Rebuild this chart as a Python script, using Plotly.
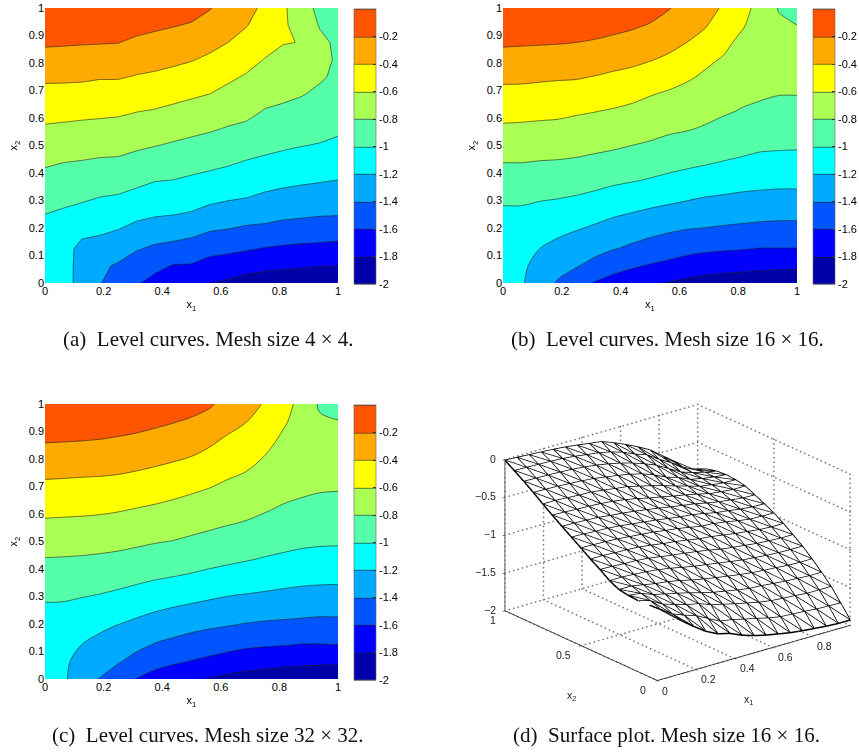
import numpy as np
import plotly.graph_objects as go

W, H = 859, 754

mesh_x = [i / 16 for i in range(17)]
mesh_y = [i / 16 for i in range(17)]

# Each inner list is one column (fixed x1), running up x2 from 0 to 1
z_a_columns = [
    [-1.01,-1.01,-1.01,-1.01,-1.0,-.92,-.85,-.78,-.695,-.62,-.535,-.455,-.365,-.265,-.175,-.09,-.0],
    [-1.13,-1.13,-1.13,-1.09,-1.03,-.945,-.865,-.80,-.72,-.63,-.545,-.46,-.365,-.27,-.18,-.09,-.02],
    [-1.26,-1.26,-1.25,-1.16,-1.06,-.97,-.89,-.81,-.735,-.64,-.555,-.465,-.37,-.285,-.185,-.10,-.03],
    [-1.39,-1.37,-1.27,-1.18,-1.09,-1.0,-.91,-.825,-.74,-.645,-.565,-.48,-.385,-.29,-.19,-.105,-.035],
    [-1.49,-1.42,-1.32,-1.21,-1.115,-1.015,-.92,-.83,-.745,-.66,-.57,-.48,-.385,-.295,-.195,-.11,-.04],
    [-1.58,-1.50,-1.385,-1.26,-1.16,-1.05,-.955,-.855,-.775,-.68,-.595,-.50,-.41,-.325,-.235,-.14,-.05],
    [-1.66,-1.55,-1.43,-1.31,-1.18,-1.09,-.99,-.89,-.795,-.70,-.61,-.525,-.43,-.335,-.26,-.165,-.08],
    [-1.73,-1.61,-1.46,-1.32,-1.195,-1.105,-1.0,-.91,-.82,-.73,-.635,-.55,-.45,-.365,-.28,-.19,-.11],
    [-1.78,-1.615,-1.485,-1.35,-1.215,-1.125,-1.025,-.935,-.845,-.755,-.66,-.575,-.48,-.39,-.31,-.215,-.13],
    [-1.80,-1.67,-1.54,-1.40,-1.265,-1.15,-1.05,-.955,-.865,-.78,-.695,-.60,-.515,-.43,-.35,-.27,-.19],
    [-1.83,-1.69,-1.56,-1.42,-1.275,-1.18,-1.08,-.98,-.89,-.81,-.73,-.645,-.57,-.49,-.40,-.34,-.28],
    [-1.865,-1.74,-1.58,-1.45,-1.31,-1.195,-1.105,-1.015,-.915,-.835,-.75,-.675,-.615,-.545,-.475,-.39,-.34],
    [-1.885,-1.76,-1.61,-1.455,-1.335,-1.225,-1.14,-1.035,-.955,-.88,-.81,-.74,-.68,-.605,-.55,-.50,-.44],
    [-1.91,-1.77,-1.63,-1.48,-1.36,-1.25,-1.155,-1.06,-.975,-.90,-.83,-.765,-.71,-.665,-.59,-.585,-.58],
    [-1.925,-1.78,-1.64,-1.50,-1.37,-1.27,-1.17,-1.08,-.995,-.92,-.855,-.79,-.74,-.695,-.605,-.64,-.675],
    [-1.94,-1.795,-1.65,-1.51,-1.385,-1.28,-1.185,-1.095,-1.01,-.945,-.89,-.83,-.78,-.755,-.75,-.815,-.87],
    [-1.945,-1.80,-1.66,-1.52,-1.39,-1.29,-1.20,-1.12,-1.04,-.965,-.915,-.87,-.83,-.82,-.84,-.88,-.92],
]

z_b_columns = [
    [-1.07,-1.07,-1.06,-1.05,-1.03,-.97,-.88,-.80,-.71,-.625,-.54,-.45,-.36,-.265,-.175,-.09,-.01],
    [-1.18,-1.16,-1.11,-1.07,-1.03,-.97,-.885,-.80,-.715,-.63,-.545,-.455,-.36,-.27,-.18,-.095,-.02],
    [-1.30,-1.27,-1.20,-1.13,-1.06,-.98,-.895,-.81,-.72,-.64,-.55,-.465,-.37,-.275,-.185,-.10,-.03],
    [-1.42,-1.335,-1.25,-1.17,-1.09,-.99,-.90,-.815,-.73,-.645,-.56,-.47,-.38,-.285,-.19,-.105,-.04],
    [-1.53,-1.385,-1.30,-1.205,-1.11,-1.01,-.915,-.825,-.745,-.66,-.58,-.48,-.385,-.295,-.20,-.115,-.05],
    [-1.61,-1.47,-1.33,-1.245,-1.14,-1.035,-.94,-.845,-.76,-.68,-.595,-.495,-.405,-.31,-.215,-.13,-.065],
    [-1.65,-1.55,-1.39,-1.29,-1.18,-1.07,-.965,-.87,-.775,-.70,-.615,-.52,-.43,-.335,-.235,-.155,-.085],
    [-1.72,-1.575,-1.43,-1.33,-1.21,-1.10,-.985,-.89,-.80,-.72,-.64,-.55,-.45,-.36,-.265,-.175,-.11],
    [-1.77,-1.615,-1.47,-1.36,-1.24,-1.125,-1.01,-.915,-.82,-.745,-.665,-.59,-.49,-.39,-.30,-.21,-.13],
    [-1.81,-1.65,-1.505,-1.39,-1.265,-1.15,-1.035,-.945,-.85,-.77,-.695,-.62,-.53,-.43,-.345,-.26,-.19],
    [-1.84,-1.69,-1.54,-1.415,-1.29,-1.175,-1.07,-.96,-.88,-.785,-.72,-.655,-.575,-.49,-.40,-.33,-.26],
    [-1.87,-1.72,-1.565,-1.425,-1.31,-1.20,-1.09,-.985,-.89,-.815,-.745,-.685,-.625,-.565,-.465,-.385,-.335],
    [-1.89,-1.73,-1.58,-1.44,-1.325,-1.215,-1.11,-1.01,-.915,-.85,-.78,-.72,-.67,-.615,-.555,-.49,-.42],
    [-1.905,-1.74,-1.59,-1.455,-1.335,-1.23,-1.13,-1.03,-.945,-.87,-.81,-.76,-.72,-.685,-.645,-.58,-.54],
    [-1.92,-1.755,-1.605,-1.465,-1.35,-1.24,-1.14,-1.05,-.97,-.895,-.83,-.78,-.745,-.72,-.70,-.685,-.66],
    [-1.93,-1.76,-1.605,-1.475,-1.355,-1.245,-1.15,-1.06,-.975,-.91,-.85,-.795,-.765,-.745,-.74,-.77,-.81],
    [-1.93,-1.765,-1.605,-1.475,-1.355,-1.245,-1.15,-1.06,-.98,-.915,-.855,-.795,-.77,-.76,-.77,-.80,-.87],
]

z_c_columns = [
    [-1.06,-1.07,-1.06,-1.05,-1.03,-.965,-.885,-.805,-.72,-.63,-.545,-.455,-.365,-.27,-.175,-.09,-.01],
    [-1.17,-1.16,-1.11,-1.07,-1.03,-.97,-.89,-.81,-.72,-.635,-.55,-.46,-.37,-.275,-.18,-.095,-.02],
    [-1.30,-1.27,-1.20,-1.13,-1.055,-.98,-.90,-.815,-.73,-.64,-.555,-.47,-.375,-.285,-.185,-.10,-.03],
    [-1.41,-1.335,-1.25,-1.175,-1.09,-.995,-.91,-.825,-.74,-.645,-.565,-.475,-.38,-.29,-.195,-.11,-.04],
    [-1.52,-1.385,-1.295,-1.215,-1.125,-1.02,-.925,-.84,-.75,-.665,-.575,-.49,-.39,-.30,-.21,-.12,-.05],
    [-1.605,-1.47,-1.35,-1.255,-1.155,-1.05,-.95,-.86,-.77,-.685,-.595,-.505,-.41,-.315,-.23,-.135,-.065],
    [-1.67,-1.535,-1.41,-1.30,-1.19,-1.08,-.975,-.88,-.79,-.71,-.615,-.525,-.43,-.345,-.25,-.165,-.085],
    [-1.72,-1.575,-1.445,-1.335,-1.22,-1.105,-.995,-.90,-.805,-.725,-.64,-.55,-.46,-.365,-.28,-.19,-.11],
    [-1.775,-1.61,-1.48,-1.365,-1.245,-1.13,-1.015,-.925,-.83,-.745,-.665,-.58,-.49,-.395,-.31,-.22,-.135],
    [-1.81,-1.645,-1.51,-1.39,-1.27,-1.155,-1.04,-.945,-.855,-.77,-.695,-.61,-.525,-.44,-.36,-.26,-.18],
    [-1.85,-1.68,-1.54,-1.41,-1.29,-1.18,-1.065,-.965,-.88,-.795,-.72,-.65,-.57,-.495,-.42,-.335,-.26],
    [-1.87,-1.72,-1.565,-1.43,-1.31,-1.195,-1.09,-.985,-.90,-.815,-.75,-.68,-.605,-.54,-.47,-.395,-.33],
    [-1.89,-1.735,-1.58,-1.445,-1.325,-1.21,-1.11,-1.01,-.92,-.84,-.78,-.72,-.665,-.60,-.54,-.48,-.415],
    [-1.91,-1.75,-1.59,-1.455,-1.335,-1.225,-1.125,-1.03,-.945,-.87,-.81,-.755,-.71,-.67,-.625,-.575,-.53],
    [-1.925,-1.76,-1.605,-1.465,-1.345,-1.24,-1.14,-1.05,-.965,-.895,-.83,-.775,-.735,-.71,-.69,-.67,-.655],
    [-1.93,-1.77,-1.605,-1.475,-1.355,-1.245,-1.15,-1.06,-.975,-.91,-.85,-.79,-.755,-.74,-.745,-.775,-.825],
    [-1.94,-1.77,-1.60,-1.47,-1.355,-1.25,-1.15,-1.06,-.98,-.915,-.855,-.795,-.77,-.76,-.77,-.795,-.87],
]

level_ticks = [-2, -1.8, -1.6, -1.4, -1.2, -1, -0.8, -0.6, -0.4, -0.2]
level_labels = ["-2", "-1.8", "-1.6", "-1.4", "-1.2", "-1", "-0.8", "-0.6", "-0.4", "-0.2"]
band_colors = ["#0000AA", "#0000FF", "#0055FF", "#00AAFF", "#00FFFF",
               "#55FFAA", "#AAFF55", "#FFFF00", "#FFAA00", "#FF5500"]
x_ticks = [0, 0.2, 0.4, 0.6, 0.8, 1]
x_labels = ["0", "0.2", "0.4", "0.6", "0.8", "1"]
y_ticks = [0, 0.1, 0.2, 0.3, 0.4, 0.5, 0.6, 0.7, 0.8, 0.9, 1]
y_labels = ["0", "0.1", "0.2", "0.3", "0.4", "0.5", "0.6", "0.7", "0.8", "0.9", "1"]
captions = ["(a)  Level curves. Mesh size 4 × 4.", "(b)  Level curves. Mesh size 16 × 16.",
            "(c)  Level curves. Mesh size 32 × 32.", "(d)  Surface plot. Mesh size 16 × 16."]

surf_x_ticks = [0, 0.2, 0.4, 0.6, 0.8]
surf_x_labels = ["0", "0.2", "0.4", "0.6", "0.8"]
surf_y_ticks = [0, 0.5, 1]
surf_y_labels = ["0", "0.5", "1"]
surf_z_ticks = [-2, -1.5, -1, -0.5, 0]
surf_z_labels = ["−2", "−1.5", "−1", "−0.5", "0"]

SANS = "Liberation Sans"
SERIF = "Liberation Serif"

colorscale = []
for n, c in enumerate(band_colors):
    colorscale += [[n / 10, c], [(n + 1) / 10, c]]

fig = go.Figure()

panels = [
    (z_a_columns, 45, 338, 8, 283, 354, 9, 284, "x", "y", 0),
    (z_b_columns, 503, 797, 8, 283, 813, 9, 284, "x2", "y2", 0.8),
    (z_c_columns, 45, 338, 404, 679, 354, 405, 680, "x3", "y3", 1),
]
layout_axes = {}
for cols, left, right, top, bot, cb_left, cb_top, cb_bot, xa, ya, smooth in panels:
    fig.add_trace(go.Contour(
        x=mesh_x, y=mesh_y, z=np.array(cols).T.tolist(), xaxis=xa, yaxis=ya,
        autocontour=False, zmin=-2, zmax=0,
        contours=dict(start=-2, end=0, size=0.2, coloring="fill", showlines=True),
        line=dict(color="#222222", width=0.6, smoothing=smooth),
        colorscale=colorscale, hoverinfo="skip",
        colorbar=dict(
            x=cb_left / W, xanchor="left", xpad=0, ypad=0,
            y=1 - (cb_top + cb_bot) / 2 / H, yanchor="middle",
            len=(cb_bot - cb_top) / H, lenmode="fraction",
            thickness=22, thicknessmode="pixels",
            tickmode="array", tickvals=level_ticks, ticktext=level_labels,
            ticks="inside", ticklen=3, tickcolor="#333333",
            tickfont=dict(family=SANS, size=11, color="black"),
            outlinecolor="#666666", outlinewidth=0.6,
        ),
    ))
    xkey = "xaxis" + xa[1:]
    ykey = "yaxis" + ya[1:]
    layout_axes[xkey] = dict(
        domain=[left / W, right / W], range=[0, 1], anchor=ya,
        tickmode="array", tickvals=x_ticks, ticktext=x_labels, ticks="",
        showgrid=False, zeroline=False, showline=False,
        tickfont=dict(family=SANS, size=11, color="black"),
        title=dict(text="x<sub>1</sub>", standoff=4, font=dict(family=SANS, size=11, color="black")),
    )
    layout_axes[ykey] = dict(
        domain=[1 - bot / H, 1 - top / H], range=[0, 1], anchor=xa,
        tickmode="array", tickvals=y_ticks, ticktext=y_labels, ticks="",
        showgrid=False, zeroline=False, showline=False,
        tickfont=dict(family=SANS, size=11, color="black"),
        title=dict(text="x<sub>2</sub>", standoff=8, font=dict(family=SANS, size=11, color="black")),
    )

# Surface (d): white facets with a triangulated wire mesh, same 16x16 data as (b)
Zd = np.array(z_b_columns)  # Zd[i][j]: x1 index i, x2 index j
n = len(mesh_x)
px, py, pz, fi, fj, fk = [], [], [], [], [], []
for i in range(n):
    for j in range(n):
        px.append(mesh_x[i]); py.append(mesh_y[j]); pz.append(float(Zd[i, j]))
for i in range(n - 1):
    for j in range(n - 1):
        a, b, c, d = i * n + j, (i + 1) * n + j, i * n + j + 1, (i + 1) * n + j + 1
        fi += [a, c]; fj += [b, b]; fk += [c, d]
fig.add_trace(go.Mesh3d(x=px, y=py, z=pz, i=fi, j=fj, k=fk, color="white", flatshading=True,
                        lighting=dict(ambient=1, diffuse=0, specular=0, fresnel=0),
                        hoverinfo="skip", showscale=False, scene="scene"))
lx, ly, lz = [], [], []
def seg(i0, j0, i1, j1):
    lx.extend([mesh_x[i0], mesh_x[i1], None])
    ly.extend([mesh_y[j0], mesh_y[j1], None])
    lz.extend([float(Zd[i0, j0]), float(Zd[i1, j1]), None])
for i in range(n):
    for j in range(n):
        if i + 1 < n:
            seg(i, j, i + 1, j)
        if j + 1 < n:
            seg(i, j, i, j + 1)
        if i + 1 < n and j + 1 < n:
            seg(i, j + 1, i + 1, j)
fig.add_trace(go.Scatter3d(x=lx, y=ly, z=lz, mode="lines", line=dict(color="black", width=3),
                           hoverinfo="skip", showlegend=False, scene="scene"))

# Dotted box grid on the back walls and floor, laid down as rows of small points
gx, gy, gz = [], [], []
def gseg(p, q, count):
    for s in np.linspace(0, 1, count):
        gx.append(p[0] + (q[0] - p[0]) * s)
        gy.append(p[1] + (q[1] - p[1]) * s)
        gz.append(p[2] + (q[2] - p[2]) * s)
for t in surf_z_ticks:
    gseg((0, 1, t), (1, 1, t), 45); gseg((1, 1, t), (1, 0, t), 38)
for t in surf_x_ticks + [1]:
    gseg((t, 1, -2), (t, 1, 0), 34); gseg((t, 0, -2), (t, 1, -2), 38)
for t in surf_y_ticks:
    gseg((1, t, -2), (1, t, 0), 34); gseg((0, t, -2), (1, t, -2), 45)
fig.add_trace(go.Scatter3d(x=gx, y=gy, z=gz, mode="markers",
                           marker=dict(color="#777777", size=1, line=dict(width=0)),
                           hoverinfo="skip", showlegend=False, scene="scene"))

axis3d = dict(showgrid=False, zeroline=False, showbackground=False, showspikes=False,
              showline=True, linecolor="black", linewidth=1.5, ticks="outside", ticklen=3,
              tickcolor="black", showticklabels=False, tickmode="array", title=dict(text=""))

annotations = []
cap_pos = [(208, 339), (667, 339), (208, 735), (666, 735)]
for text, (cx, cy) in zip(captions, cap_pos):
    annotations.append(dict(text=text, x=cx / W, y=1 - cy / H, xref="paper", yref="paper",
                            xanchor="center", yanchor="middle", showarrow=False,
                            font=dict(family=SERIF, size=21, color="#111111")))

# Tick labels and axis names of the 3-D box, anchored at the data positions they name
scene_font = dict(family=SANS, size=10.5, color="#222222")
def label3d(text, x, y, z, dx, dy, anchor="center"):
    return dict(text=text, x=x, y=y, z=z, xshift=dx, yshift=-dy, xanchor=anchor, yanchor="middle",
                showarrow=False, font=scene_font)
scene_ann = []
for t, s in zip(surf_x_ticks, surf_x_labels):
    scene_ann.append(label3d(s, t, 0, -2, 8 if t == 0 else 13, 10))
for t, s, dx in zip(surf_y_ticks, surf_y_labels, [-14, -18, -12]):
    scene_ann.append(label3d(s, 0, t, -2, dx, 9))
for t, s in zip(surf_z_ticks, surf_z_labels):
    scene_ann.append(label3d(s, 0, 1, t, -7, -1, "right"))
scene_ann.append(label3d("x<sub>1</sub>", 0.5, 0, -2, -5, 47))
scene_ann.append(label3d("x<sub>2</sub>", 0, 0.5, -2, -10, 50))

K = 0.64
A = 1.56
center = dict(x=-0.065, y=0.051, z=0)
fig.update_layout(
    width=W, height=H, autosize=False,
    margin=dict(l=0, r=0, t=0, b=0, autoexpand=False),
    paper_bgcolor="white", plot_bgcolor="white", showlegend=False,
    annotations=annotations,
    scene=dict(
        domain=dict(x=[470 / W, 1], y=[1 - 700 / H, 1 - 385 / H]),
        annotations=scene_ann,
        xaxis=dict(axis3d, range=[0, 1], tickvals=surf_x_ticks),
        yaxis=dict(axis3d, range=[0, 1], tickvals=surf_y_ticks),
        zaxis=dict(axis3d, range=[-2, 0], tickvals=surf_z_ticks),
        aspectmode="manual", aspectratio=dict(x=A, y=A, z=0.66 * A),
        camera=dict(projection=dict(type="orthographic"),
                    eye=dict(x=-0.791 * K + center["x"], y=-1.0 * K + center["y"], z=0.495 * K),
                    center=center, up=dict(x=0, y=0, z=1)),
    ),
    **layout_axes,
)
fig.write_html("out.html", config=dict(displayModeBar=False),
               post_script="document.body.style.margin='0';")
